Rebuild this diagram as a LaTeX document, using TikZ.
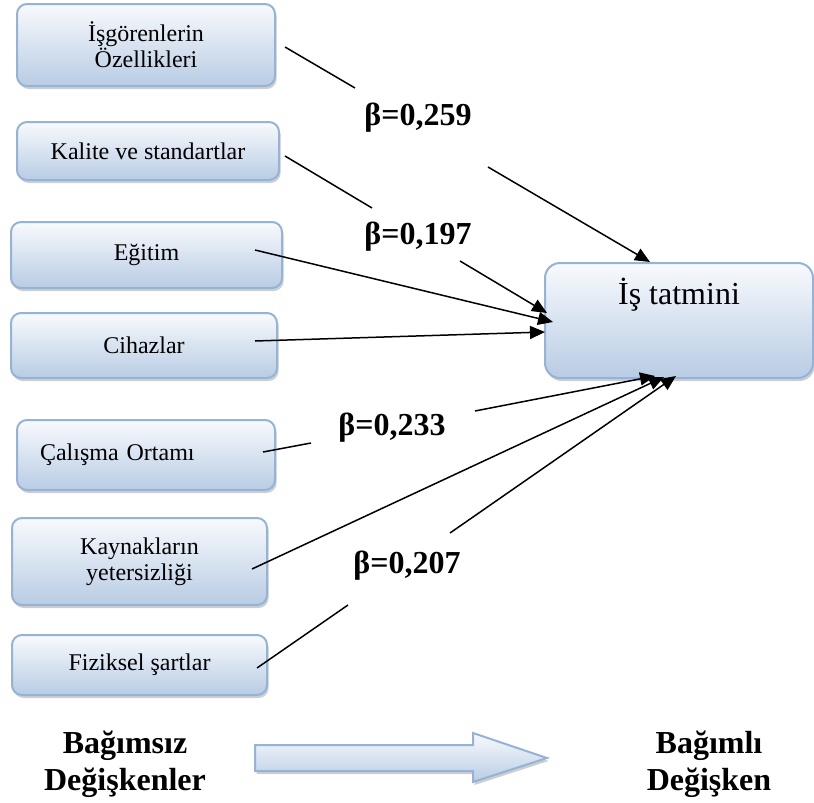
\documentclass[tikz,border=0pt]{standalone}
\usepackage{fontspec}
\setmainfont{Liberation Serif}
\usetikzlibrary{arrows.meta,shadows}
\definecolor{bord}{HTML}{95B3D7}
\definecolor{fillbot}{HTML}{B8CCE4}
\definecolor{filltop}{HTML}{F8FAFD}
\begin{document}
\begin{tikzpicture}[x=0.5pt,y=-0.5pt,
  box/.style={draw=bord, line width=1pt, rounded corners=5pt,
    top color=filltop, bottom color=fillbot,
    drop shadow={shadow xshift=0.8pt, shadow yshift=-1.5pt, fill=black!38},
    font=\fontsize{12}{13}\selectfont, align=center, inner sep=0pt},
  betalbl/.style={font=\bfseries\fontsize{16}{18}\selectfont, inner sep=0pt},
  bottomlbl/.style={font=\bfseries\fontsize{16}{18.5}\selectfont, align=center, inner sep=0pt},
  conn/.style={line width=0.75pt, black},
  arr/.style={conn, -{Triangle[length=7.5pt,width=6.5pt]}},
  bigarrow/.style={draw=bord, line width=1pt, top color=filltop, bottom color=fillbot,
    drop shadow={shadow xshift=0.8pt, shadow yshift=-1.5pt, fill=black!38}}
]
\useasboundingbox (0,0) rectangle (814,803);

% independent variable boxes
\node[box, minimum width=129pt, minimum height=41pt] (b1) at (146,45) {İşgörenlerin\\Özellikleri};
\node[box, minimum width=131pt, minimum height=29pt] (b2) at (148,151) {Kalite ve standartlar};
\node[box, minimum width=135.5pt, minimum height=33pt] (b3) at (146.5,255) {Eğitim};
\node[box, minimum width=133pt, minimum height=32.5pt] (b4) at (144,345.5) {Cihazlar};
\node[box, minimum width=129pt, minimum height=35pt, text width=106pt, inner xsep=11.5pt, align=left] (b5) at (146,455) {Çalışma Ortamı};
\node[box, minimum width=127.5pt, minimum height=43.5pt] (b6) at (139.5,561.5) {Kaynakların\\yetersizliği};
\node[box, minimum width=127.5pt, minimum height=30pt] (b7) at (139.5,665) {Fiziksel şartlar};

% dependent variable box
\node[box, rounded corners=7.5pt, minimum width=134pt, text height=20.5pt, text depth=37pt,
  font=\fontsize{16}{18}\selectfont, anchor=north] (t) at (679,262) {İş tatmini};

% coefficient labels
\node[betalbl] (l1) at (418,118) {β=0,259};
\node[betalbl] (l2) at (418,237) {β=0,197};
\node[betalbl] (l5) at (392,428) {β=0,233};
\node[betalbl] (l7) at (407,566) {β=0,207};

% connector points
\coordinate (s1) at (285,47);  \coordinate (g1a) at (355,88);  \coordinate (g1b) at (488,167); \coordinate (t1) at (650,262);
\coordinate (s2) at (285,156); \coordinate (g2a) at (372,208); \coordinate (g2b) at (460,261); \coordinate (t2) at (547,313);
\coordinate (s3) at (255,250); \coordinate (t3) at (553,322);
\coordinate (s4) at (255,341); \coordinate (t4) at (545,332);
\coordinate (s5) at (263,452); \coordinate (g5a) at (311,443); \coordinate (g5b) at (475,411); \coordinate (t5) at (655,376);
\coordinate (s6) at (252,569); \coordinate (t6) at (664,377);
\coordinate (s7) at (257,668); \coordinate (g7a) at (348,605); \coordinate (g7b) at (450,533); \coordinate (t7) at (676,376);

\draw[conn] (s1) -- (g1a); \draw[arr] (g1b) -- (t1);
\draw[conn] (s2) -- (g2a); \draw[arr] (g2b) -- (t2);
\draw[arr] (s3) -- (t3);
\draw[arr] (s4) -- (t4);
\draw[conn] (s5) -- (g5a); \draw[arr] (g5b) -- (t5);
\draw[arr] (s6) -- (t6);
\draw[conn] (s7) -- (g7a); \draw[arr] (g7b) -- (t7);

% bottom legend
\node[bottomlbl] (ind) at (125,764) {Bağımsız\\Değişkenler};
\node[bottomlbl] (dep) at (709,764) {Bağımlı\\Değişken};
\path[bigarrow] (255,745) -- (473,745) -- (473,733) -- (547,758) -- (473,782) -- (473,771) -- (255,771) -- cycle;
\end{tikzpicture}
\end{document}
